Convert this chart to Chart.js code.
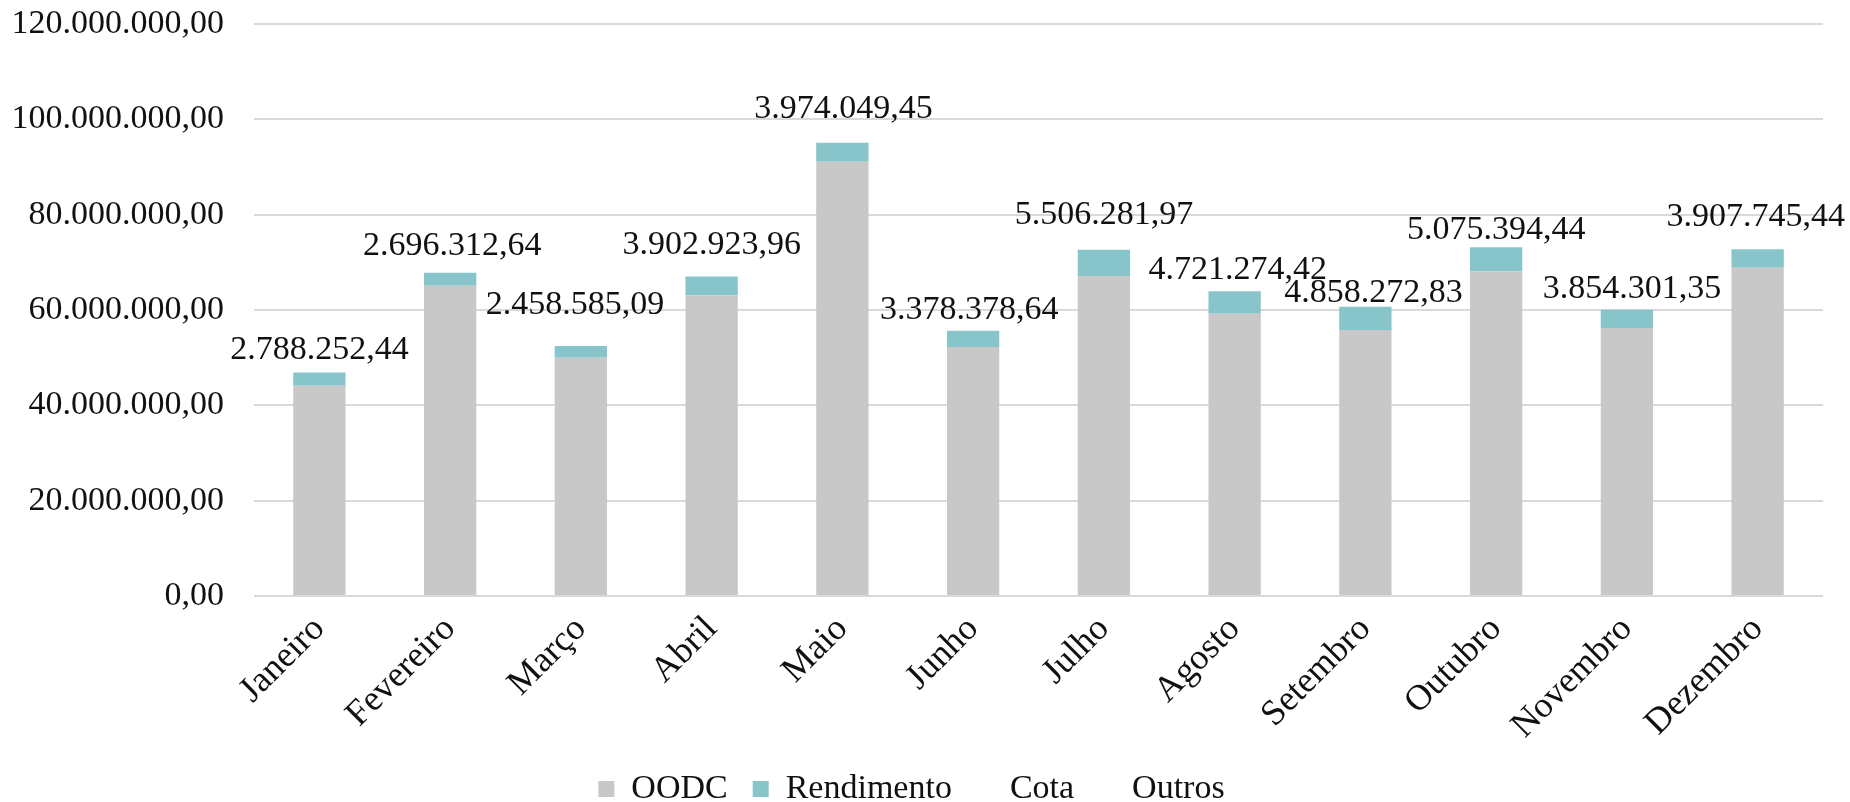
<!DOCTYPE html>
<html>
<head>
<meta charset="utf-8">
<script src="https://cdn.jsdelivr.net/npm/chart.js@4.4.1/dist/chart.umd.min.js"></script>
<style>
  html, body { margin: 0; padding: 0; background: #ffffff; }
  #wrap { width: 1850px; height: 802px; }
</style>
</head>
<body>
<div id="wrap"><canvas id="c" width="1850" height="802"></canvas></div>
<script>
// ---- data ----
const months = ['Janeiro', 'Fevereiro', 'Março', 'Abril', 'Maio', 'Junho', 'Julho', 'Agosto', 'Setembro', 'Outubro', 'Novembro', 'Dezembro'];
const oodc = [44100000, 65100000, 50000000, 63100000, 91100000, 52250000, 67150000, 59200000, 55800000, 68100000, 56200000, 68850000];
const rendimento = [2788252.44, 2696312.64, 2458585.09, 3902923.96, 3974049.45, 3378378.64, 5506281.97, 4721274.42, 4858272.83, 5075394.44, 3854301.35, 3907745.44];
const cota = [0, 0, 0, 0, 0, 0, 0, 0, 0, 0, 0, 0];
const outros = [0, 0, 0, 0, 0, 0, 0, 0, 0, 0, 0, 0];
const yTicks = [0, 20000000, 40000000, 60000000, 80000000, 100000000, 120000000];

// ---- layout of the value labels (pixel nudges, not data) ----
const labelDx = [0, 2, -6, 0, 1, -4, 0, 3, 8, 0, 5, -2];
const labelGap = [13, 18, 32, 23, 25, 12, 26, 12, 5, 8, 12, 23];

function fmtBR(v) {
  const neg = v < 0;
  const s = Math.abs(v).toFixed(2);
  const parts = s.split('.');
  const intPart = parts[0].replace(/\B(?=(\d{3})+(?!\d))/g, '.');
  return (neg ? '-' : '') + intPart + ',' + parts[1];
}

const FONT = "'Liberation Serif', 'Times New Roman', serif";
const TXT = '#111111';

const valueLabels = {
  id: 'valueLabels',
  afterDatasetsDraw(chart) {
    const ctx = chart.ctx;
    const meta = chart.getDatasetMeta(1);
    ctx.save();
    ctx.font = '34px ' + FONT;
    ctx.fillStyle = TXT;
    ctx.textAlign = 'center';
    ctx.textBaseline = 'alphabetic';
    meta.data.forEach((bar, i) => {
      ctx.fillText(fmtBR(rendimento[i]), bar.x + labelDx[i], bar.y - labelGap[i]);
    });
    ctx.restore();
  }
};

Chart.defaults.font.family = FONT;
Chart.defaults.font.size = 34;
Chart.defaults.color = TXT;

new Chart(document.getElementById('c'), {
  type: 'bar',
  data: {
    labels: months,
    datasets: [
      { label: 'OODC', data: oodc, backgroundColor: '#C8C8C8', borderWidth: 0 },
      { label: 'Rendimento', data: rendimento, backgroundColor: '#87C5CA', borderWidth: 0 },
      { label: 'Cota', data: cota, backgroundColor: 'rgba(0,0,0,0)', borderWidth: 0 },
      { label: 'Outros', data: outros, backgroundColor: 'rgba(0,0,0,0)', borderWidth: 0 }
    ]
  },
  options: {
    responsive: false,
    devicePixelRatio: 1,
    animation: false,
    layout: { padding: { left: 0, right: 27, top: 24, bottom: -14 } },
    datasets: { bar: { categoryPercentage: 1.0, barPercentage: 0.4 } },
    plugins: {
      legend: {
        position: 'bottom',
        labels: { boxWidth: 16, boxHeight: 16, padding: 25, color: TXT, font: { size: 34, family: FONT } }
      },
      tooltip: { enabled: false }
    },
    scales: {
      x: {
        stacked: true,
        grid: { display: false, drawTicks: false },
        border: { display: false },
        ticks: { minRotation: 45, maxRotation: 45, autoSkip: false, padding: 12, color: TXT, font: { size: 36 } },
        afterFit(scale) { scale.height = 151; }
      },
      y: {
        stacked: true,
        min: 0,
        max: 120000000,
        grid: { color: '#D9D9D9', lineWidth: 2, drawTicks: true, tickLength: 27, tickColor: 'rgba(0,0,0,0)' },
        border: { display: false },
        ticks: { padding: 3, color: TXT, font: { size: 34 }, callback: (v) => fmtBR(v) },
        afterBuildTicks(scale) { scale.ticks = yTicks.map(v => ({ value: v })); },
        afterFit(scale) { scale.width = 254; }
      }
    }
  },
  plugins: [valueLabels]
});
</script>
</body>
</html>
